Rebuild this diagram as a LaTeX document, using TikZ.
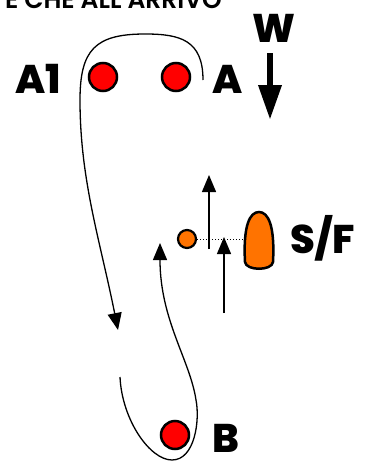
\documentclass[tikz,border=0pt]{standalone}
\usepackage{fontspec}
\setmainfont{Poppins}
\newfontfamily\titlefont{Poppins SemiBold}
\newfontfamily\labfont{Poppins ExtraBold}
\usetikzlibrary{arrows.meta}

\tikzset{
  boa/.style={circle, draw=black, line width=2.5pt, fill=red, minimum size=28pt, inner sep=0pt},
  lbl/.style={font=\fontsize{40}{40}\selectfont\labfont, inner sep=0pt, anchor=base west},
  rotta/.style={black, line width=1.3pt, -{Triangle[length=17pt,width=14pt]}}
}

\begin{document}
\begin{tikzpicture}[x=1pt, y=-1pt]
		\clip (0,0) rectangle (375,463);
		\fill[white] (0,0) rectangle (375,463);
%
		\node[font=\fontsize{25}{25}\selectfont\titlefont, inner sep=0pt, anchor=base east] (titolo) at (222,9) {E CHE ALL ARRIVO};
%		boe
		\node[boa] (boaA1) at (103,77) {};
		\node[boa] (boaA) at (176,77) {};
		\node[boa] (boaB) at (175,435) {};
		\node[lbl] (labA1) at (15,93) {A1};
		\node[lbl] (labA) at (212,93) {A};
		\node[lbl] (labB) at (212,452) {B};
		\node[lbl] (labW) at (252,42) {W};
		\node[lbl] (labSF) at (290,253) {S/F};
%		vento
		\coordinate (wtop) at (270,53);
		\coordinate (wtip) at (270,120);
		\draw[line width=6.5pt, -{Triangle[length=35pt,width=22pt]}] (wtop) -- (wtip);
%		linea di partenza
		\node[circle, draw=black, line width=2.2pt, fill=orange!90!red, minimum size=18pt, inner sep=0pt] (pin) at (187,239) {};
		\coordinate (barca) at (259,241);
		\draw[black, line width=2.5pt, fill=orange!90!red] (barca) ++(-14,21) .. controls ++(-2,-37) and (250,212) .. (259,212)
			.. controls (268,212) and (275,225) .. (273,262) .. controls (272,271) and (246,271) .. (245,262) -- cycle;
		\coordinate (sx) at (243,239);
		\draw[black, line width=1pt, dotted] (pin.east) -- (sx);
%		rotte
		\coordinate (r1a) at (209,249);
		\coordinate (r1b) at (209,175);
		\coordinate (r2a) at (224,313);
		\coordinate (r2b) at (224,237);
		\draw[rotta] (r1a) -- (r1b);
		\draw[rotta] (r2a) -- (r2b);
		\coordinate (gira) at (203,80);
		\coordinate (poppa) at (118,330);
		\draw[rotta] (gira) .. controls (203,40) and (180,34) .. (145,34)
			.. controls (95,34) and (80,50) .. (80,100)
			.. controls (80,180) and (100,240) .. (poppa);
		\coordinate (risale) at (120,377);
		\coordinate (bolina) at (160,243);
		\draw[rotta] (risale) .. controls (122,420) and (150,460) .. (172,460)
			.. controls (195,460) and (200,420) .. (196,400)
			.. controls (190,360) and (160,320) .. (bolina);
\end{tikzpicture}
\end{document}
